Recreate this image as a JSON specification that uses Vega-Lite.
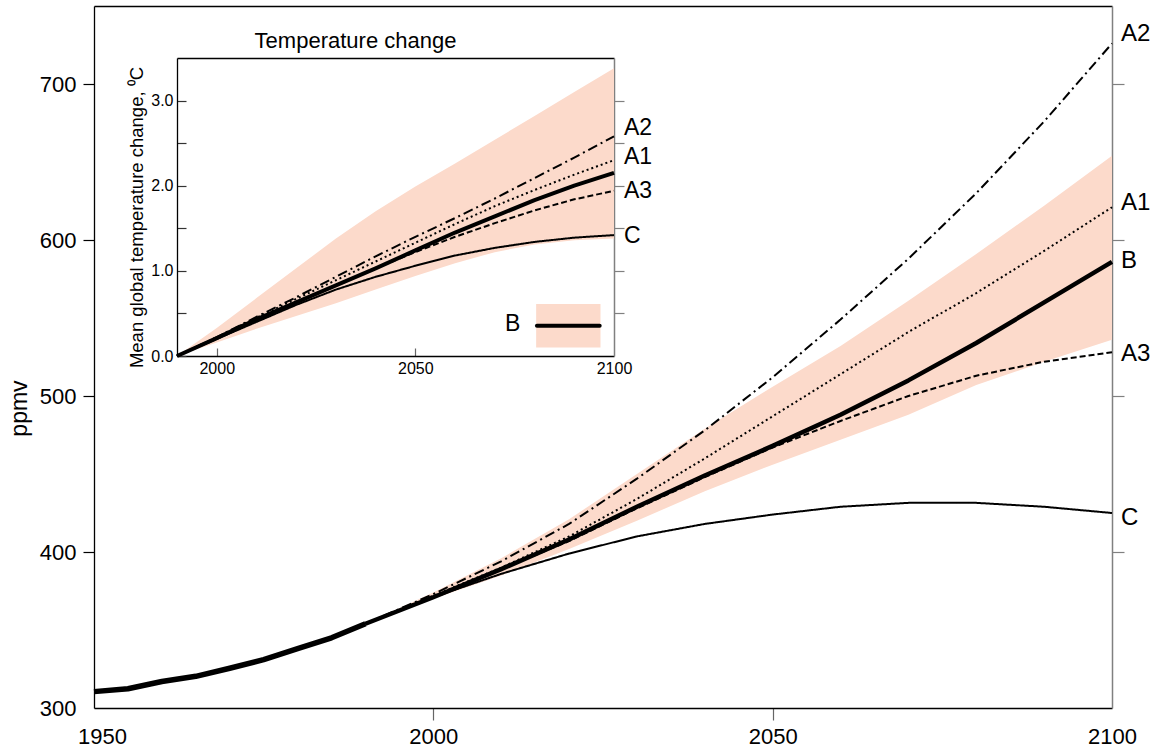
{
  "$schema": "https://vega.github.io/schema/vega-lite/v6.json",
  "width": 1018,
  "height": 702,
  "autosize": {"type": "none"},
  "padding": {"left": 94, "top": 6, "right": 49, "bottom": 43},
  "background": "white",
  "config": {
    "view": {"stroke": null},
    "font": "Liberation Sans",
    "axis": {"grid": false, "labelFont": "Liberation Sans", "titleFont": "Liberation Sans", "labelColor": "black", "titleColor": "black", "titleFontWeight": "normal", "domainColor": "black", "tickColor": "black", "labelFlush": false, "labelOverlap": false}
  },
  "datasets": {
    "mainBand": [
      {"year": 1990, "lo": 354, "hi": 354},
      {"year": 2000, "lo": 370, "hi": 374},
      {"year": 2010, "lo": 385, "hi": 396},
      {"year": 2020, "lo": 402, "hi": 421},
      {"year": 2030, "lo": 420, "hi": 450},
      {"year": 2040, "lo": 439, "hi": 479},
      {"year": 2050, "lo": 456, "hi": 506},
      {"year": 2060, "lo": 472, "hi": 532},
      {"year": 2070, "lo": 488, "hi": 561},
      {"year": 2080, "lo": 507, "hi": 591},
      {"year": 2090, "lo": 522, "hi": 622},
      {"year": 2100, "lo": 536, "hi": 654}
    ],
    "mainLines": [
      {"scen": "Hist", "year": 1950, "ppmv": 310.5},
      {"scen": "Hist", "year": 1955, "ppmv": 312.3},
      {"scen": "Hist", "year": 1960, "ppmv": 317},
      {"scen": "Hist", "year": 1965, "ppmv": 320.3},
      {"scen": "Hist", "year": 1970, "ppmv": 325.5},
      {"scen": "Hist", "year": 1975, "ppmv": 331},
      {"scen": "Hist", "year": 1980, "ppmv": 338},
      {"scen": "Hist", "year": 1985, "ppmv": 345},
      {"scen": "Hist", "year": 1990, "ppmv": 354},
      {"scen": "B", "year": 1990, "ppmv": 354},
      {"scen": "B", "year": 2000, "ppmv": 371},
      {"scen": "B", "year": 2010, "ppmv": 389},
      {"scen": "B", "year": 2020, "ppmv": 408},
      {"scen": "B", "year": 2030, "ppmv": 429},
      {"scen": "B", "year": 2040, "ppmv": 449},
      {"scen": "B", "year": 2050, "ppmv": 468},
      {"scen": "B", "year": 2060, "ppmv": 488},
      {"scen": "B", "year": 2070, "ppmv": 510},
      {"scen": "B", "year": 2080, "ppmv": 534},
      {"scen": "B", "year": 2090, "ppmv": 560},
      {"scen": "B", "year": 2100, "ppmv": 586},
      {"scen": "A1", "year": 1990, "ppmv": 354},
      {"scen": "A1", "year": 2000, "ppmv": 372},
      {"scen": "A1", "year": 2010, "ppmv": 390},
      {"scen": "A1", "year": 2020, "ppmv": 410},
      {"scen": "A1", "year": 2030, "ppmv": 434},
      {"scen": "A1", "year": 2040, "ppmv": 460},
      {"scen": "A1", "year": 2050, "ppmv": 487},
      {"scen": "A1", "year": 2060, "ppmv": 514},
      {"scen": "A1", "year": 2070, "ppmv": 541},
      {"scen": "A1", "year": 2080, "ppmv": 566},
      {"scen": "A1", "year": 2090, "ppmv": 593},
      {"scen": "A1", "year": 2100, "ppmv": 621},
      {"scen": "A2", "year": 1990, "ppmv": 354},
      {"scen": "A2", "year": 2000, "ppmv": 373},
      {"scen": "A2", "year": 2010, "ppmv": 394},
      {"scen": "A2", "year": 2020, "ppmv": 418},
      {"scen": "A2", "year": 2030, "ppmv": 447},
      {"scen": "A2", "year": 2040, "ppmv": 478},
      {"scen": "A2", "year": 2050, "ppmv": 512},
      {"scen": "A2", "year": 2060, "ppmv": 549},
      {"scen": "A2", "year": 2070, "ppmv": 588},
      {"scen": "A2", "year": 2080, "ppmv": 630},
      {"scen": "A2", "year": 2090, "ppmv": 676},
      {"scen": "A2", "year": 2100, "ppmv": 726},
      {"scen": "A3", "year": 1990, "ppmv": 354},
      {"scen": "A3", "year": 2000, "ppmv": 371},
      {"scen": "A3", "year": 2010, "ppmv": 389},
      {"scen": "A3", "year": 2020, "ppmv": 407},
      {"scen": "A3", "year": 2030, "ppmv": 428},
      {"scen": "A3", "year": 2040, "ppmv": 448},
      {"scen": "A3", "year": 2050, "ppmv": 467},
      {"scen": "A3", "year": 2060, "ppmv": 484},
      {"scen": "A3", "year": 2070, "ppmv": 500},
      {"scen": "A3", "year": 2080, "ppmv": 513},
      {"scen": "A3", "year": 2090, "ppmv": 522},
      {"scen": "A3", "year": 2100, "ppmv": 528},
      {"scen": "C", "year": 1990, "ppmv": 354},
      {"scen": "C", "year": 2000, "ppmv": 371},
      {"scen": "C", "year": 2010, "ppmv": 386},
      {"scen": "C", "year": 2020, "ppmv": 399},
      {"scen": "C", "year": 2030, "ppmv": 410},
      {"scen": "C", "year": 2040, "ppmv": 418},
      {"scen": "C", "year": 2050, "ppmv": 424},
      {"scen": "C", "year": 2060, "ppmv": 429},
      {"scen": "C", "year": 2070, "ppmv": 431.5},
      {"scen": "C", "year": 2080, "ppmv": 431.5},
      {"scen": "C", "year": 2090, "ppmv": 429},
      {"scen": "C", "year": 2100, "ppmv": 425}
    ],
    "mainLabels": [
      {"label": "A2", "ppmv": 732},
      {"label": "A1", "ppmv": 624},
      {"label": "B", "ppmv": 586.5},
      {"label": "A3", "ppmv": 527},
      {"label": "C", "ppmv": 422}
    ],
    "insetBand": [
      {"year": 1990, "lo": 0, "hi": 0},
      {"year": 2000, "lo": 0.16, "hi": 0.33},
      {"year": 2010, "lo": 0.32, "hi": 0.68},
      {"year": 2020, "lo": 0.47, "hi": 1.03},
      {"year": 2030, "lo": 0.62, "hi": 1.38},
      {"year": 2040, "lo": 0.78, "hi": 1.70},
      {"year": 2050, "lo": 0.94, "hi": 1.99},
      {"year": 2060, "lo": 1.09, "hi": 2.26},
      {"year": 2070, "lo": 1.22, "hi": 2.54},
      {"year": 2080, "lo": 1.31, "hi": 2.82},
      {"year": 2090, "lo": 1.36, "hi": 3.10},
      {"year": 2100, "lo": 1.38, "hi": 3.38}
    ],
    "insetLines": [
      {"scen": "C", "year": 1990, "T": 0}, {"scen": "C", "year": 2000, "T": 0.20}, {"scen": "C", "year": 2010, "T": 0.40}, {"scen": "C", "year": 2020, "T": 0.60}, {"scen": "C", "year": 2030, "T": 0.78}, {"scen": "C", "year": 2040, "T": 0.93}, {"scen": "C", "year": 2050, "T": 1.06}, {"scen": "C", "year": 2060, "T": 1.18}, {"scen": "C", "year": 2070, "T": 1.27}, {"scen": "C", "year": 2080, "T": 1.34}, {"scen": "C", "year": 2090, "T": 1.39}, {"scen": "C", "year": 2100, "T": 1.42},
      {"scen": "B", "year": 1990, "T": 0}, {"scen": "B", "year": 2000, "T": 0.21}, {"scen": "B", "year": 2010, "T": 0.43}, {"scen": "B", "year": 2020, "T": 0.63}, {"scen": "B", "year": 2030, "T": 0.83}, {"scen": "B", "year": 2040, "T": 1.03}, {"scen": "B", "year": 2050, "T": 1.24}, {"scen": "B", "year": 2060, "T": 1.45}, {"scen": "B", "year": 2070, "T": 1.64}, {"scen": "B", "year": 2080, "T": 1.83}, {"scen": "B", "year": 2090, "T": 2.00}, {"scen": "B", "year": 2100, "T": 2.15},
      {"scen": "A3", "year": 1990, "T": 0}, {"scen": "A3", "year": 2000, "T": 0.21}, {"scen": "A3", "year": 2010, "T": 0.43}, {"scen": "A3", "year": 2020, "T": 0.63}, {"scen": "A3", "year": 2030, "T": 0.83}, {"scen": "A3", "year": 2040, "T": 1.03}, {"scen": "A3", "year": 2050, "T": 1.22}, {"scen": "A3", "year": 2060, "T": 1.40}, {"scen": "A3", "year": 2070, "T": 1.56}, {"scen": "A3", "year": 2080, "T": 1.71}, {"scen": "A3", "year": 2090, "T": 1.84}, {"scen": "A3", "year": 2100, "T": 1.94},
      {"scen": "A1", "year": 1990, "T": 0}, {"scen": "A1", "year": 2000, "T": 0.22}, {"scen": "A1", "year": 2010, "T": 0.45}, {"scen": "A1", "year": 2020, "T": 0.67}, {"scen": "A1", "year": 2030, "T": 0.89}, {"scen": "A1", "year": 2040, "T": 1.11}, {"scen": "A1", "year": 2050, "T": 1.33}, {"scen": "A1", "year": 2060, "T": 1.55}, {"scen": "A1", "year": 2070, "T": 1.76}, {"scen": "A1", "year": 2080, "T": 1.95}, {"scen": "A1", "year": 2090, "T": 2.13}, {"scen": "A1", "year": 2100, "T": 2.30},
      {"scen": "A2", "year": 1990, "T": 0}, {"scen": "A2", "year": 2000, "T": 0.22}, {"scen": "A2", "year": 2010, "T": 0.46}, {"scen": "A2", "year": 2020, "T": 0.69}, {"scen": "A2", "year": 2030, "T": 0.93}, {"scen": "A2", "year": 2040, "T": 1.17}, {"scen": "A2", "year": 2050, "T": 1.40}, {"scen": "A2", "year": 2060, "T": 1.62}, {"scen": "A2", "year": 2070, "T": 1.85}, {"scen": "A2", "year": 2080, "T": 2.09}, {"scen": "A2", "year": 2090, "T": 2.33}, {"scen": "A2", "year": 2100, "T": 2.58}
    ],
    "insetLabels": [
      {"label": "A2", "T": 2.675},
      {"label": "A1", "T": 2.34},
      {"label": "A3", "T": 1.935},
      {"label": "C", "T": 1.41}
    ]
  },
  "layer": [
    {
      "layer": [
        {
          "data": {"name": "mainBand"},
          "mark": {"type": "area", "color": "#fcdacb", "opacity": 1},
          "encoding": {
            "x": {"field": "year", "type": "quantitative", "scale": {"domain": [1950, 2100], "nice": false, "zero": false},
              "axis": {"orient": "bottom", "values": [1950, 2000, 2050, 2100], "format": "d", "title": null, "tickSize": 12, "tickWidth": 1.2,
                "tickColor": {"condition": {"test": "datum.value == 2000 || datum.value == 2050", "value": "#666666"}, "value": "transparent"},
                "labelFontSize": 22, "labelPadding": 6,
                "labelOffset": {"condition": {"test": "datum.value == 1950", "value": 8}, "value": 0},
                "domainWidth": 1.3}},
            "y": {"field": "lo", "type": "quantitative", "scale": {"domain": [300, 750], "nice": false, "zero": false},
              "axis": {"orient": "left", "values": [300, 400, 500, 600, 700], "format": "d", "title": "ppmv", "titleFontSize": 23, "titlePadding": 8, "titleY": 402,
                "tickSize": 11, "tickWidth": 1.2,
                "tickColor": {"condition": {"test": "datum.value == 300", "value": "transparent"}, "value": "black"},
                "labelFontSize": 22, "labelPadding": 7, "domainWidth": 1.3}},
            "y2": {"field": "hi"}
          }
        },
        {
          "data": {"name": "mainLines"},
          "transform": [{"filter": "datum.scen != 'B' && datum.scen != 'Hist'"}],
          "mark": {"type": "line", "color": "black", "strokeJoin": "round", "strokeWidth": 2},
          "encoding": {
            "x": {"field": "year", "type": "quantitative", "axis": null},
            "y": {"field": "ppmv", "type": "quantitative", "axis": null},
            "strokeDash": {"field": "scen", "type": "nominal", "legend": null,
              "scale": {"domain": ["A1", "A2", "A3", "C"], "range": [[2, 3], [10, 4, 2, 4], [6, 3], [1, 0]]}}
          }
        },
        {
          "data": {"name": "mainLines"},
          "transform": [{"filter": "datum.scen == 'B'"}],
          "mark": {"type": "line", "color": "black", "strokeJoin": "round", "strokeWidth": 4.5},
          "encoding": {
            "x": {"field": "year", "type": "quantitative", "axis": null},
            "y": {"field": "ppmv", "type": "quantitative", "axis": null}
          }
        },
        {
          "data": {"name": "mainLines"},
          "transform": [{"filter": "datum.scen == 'Hist'"}],
          "mark": {"type": "line", "color": "black", "strokeJoin": "round", "strokeWidth": 5.5},
          "encoding": {
            "x": {"field": "year", "type": "quantitative", "axis": null},
            "y": {"field": "ppmv", "type": "quantitative", "axis": null}
          }
        },
        {
          "data": {"name": "mainLabels"},
          "mark": {"type": "text", "align": "left", "baseline": "middle", "dx": 9, "fontSize": 24, "color": "black"},
          "encoding": {
            "x": {"datum": 2100, "type": "quantitative",
              "axis": {"orient": "top", "labels": false, "ticks": false, "title": null, "domainColor": "black", "domainWidth": 1.3}},
            "y": {"field": "ppmv", "type": "quantitative",
              "axis": {"orient": "right", "values": [400, 500, 600, 700], "labels": false, "tickSize": 12, "tickWidth": 1.2, "tickColor": "#808080", "domainColor": "#808080", "domainWidth": 1.5, "title": null}},
            "text": {"field": "label"}
          }
        }
      ],
      "resolve": {"axis": {"x": "independent", "y": "independent"}}
    },
    {
      "layer": [
        {
          "data": {"name": "insetBand"},
          "mark": {"type": "area", "color": "#fcdacb", "opacity": 1},
          "encoding": {
            "x": {"field": "year", "type": "quantitative", "scale": {"domain": [1990, 2100], "range": [83, 520], "nice": false, "zero": false},
              "axis": {"orient": "bottom", "offset": -352, "values": [2000, 2050, 2100], "format": "d", "title": null, "tickSize": -8, "tickWidth": 1.2,
                "tickColor": {"condition": {"test": "datum.value == 2100", "value": "transparent"}, "value": "#666666"},
                "labelFontSize": 16, "labelPadding": 12, "domainWidth": 1.3}},
            "y": {"field": "lo", "type": "quantitative", "scale": {"domain": [0, 3.5], "range": [350, 52], "nice": false, "zero": false},
              "axis": {"orient": "left", "offset": -83, "values": [0, 0.5, 1, 1.5, 2, 2.5, 3],
                "labelExpr": "datum.value % 1 == 0 ? format(datum.value, '.1f') : ''",
                "tickSize": -9, "tickWidth": 1.2, "tickColor": "#333333",
                "labelFontSize": 16, "labelPadding": 13, "domainWidth": 1.3,
                "title": "Mean global temperature change, ⁰C", "titleFontSize": 18.5, "titlePadding": 4, "titleY": 211}},
            "y2": {"field": "hi"}
          }
        },
        {
          "data": {"name": "insetLines"},
          "transform": [{"filter": "datum.scen != 'B'"}],
          "mark": {"type": "line", "color": "black", "strokeJoin": "round", "strokeWidth": 2},
          "encoding": {
            "x": {"field": "year", "type": "quantitative", "axis": null},
            "y": {"field": "T", "type": "quantitative", "axis": null},
            "strokeDash": {"field": "scen", "type": "nominal", "legend": null,
              "scale": {"domain": ["A1", "A2", "A3", "C"], "range": [[2, 3], [9, 4, 2, 4], [6, 3], [1, 0]]}}
          }
        },
        {
          "data": {"name": "insetLines"},
          "transform": [{"filter": "datum.scen == 'B'"}],
          "mark": {"type": "line", "color": "black", "strokeJoin": "round", "strokeWidth": 4},
          "encoding": {
            "x": {"field": "year", "type": "quantitative", "axis": null},
            "y": {"field": "T", "type": "quantitative", "axis": null}
          }
        },
        {
          "data": {"values": [{}]},
          "mark": {"type": "rect", "color": "#fcdacb"},
          "encoding": {
            "x": {"datum": 2080.4, "type": "quantitative", "axis": null},
            "x2": {"datum": 2096.6},
            "y": {"datum": 0.1, "type": "quantitative", "axis": null},
            "y2": {"datum": 0.61}
          }
        },
        {
          "data": {"values": [{}]},
          "mark": {"type": "rule", "color": "black", "strokeWidth": 4, "strokeCap": "round"},
          "encoding": {
            "x": {"datum": 2080.6, "type": "quantitative", "axis": null},
            "x2": {"datum": 2096.4},
            "y": {"datum": 0.355, "type": "quantitative", "axis": null}
          }
        },
        {
          "data": {"values": [{"label": "B"}]},
          "mark": {"type": "text", "align": "right", "baseline": "middle", "fontSize": 23, "color": "black"},
          "encoding": {
            "x": {"datum": 2076.4, "type": "quantitative", "axis": null},
            "y": {"datum": 0.37, "type": "quantitative", "axis": null},
            "text": {"field": "label"}
          }
        },
        {
          "data": {"name": "insetLabels"},
          "mark": {"type": "text", "align": "left", "baseline": "middle", "dx": 10, "fontSize": 23, "color": "black"},
          "encoding": {
            "x": {"datum": 2100, "type": "quantitative",
              "axis": {"orient": "top", "offset": -52, "labels": false, "ticks": false, "domainColor": "black", "domainWidth": 1.3,
                "title": "Temperature change", "titleFontSize": 22, "titlePadding": 6, "titleX": 261, "titleAlign": "center"}},
            "y": {"field": "T", "type": "quantitative",
              "axis": {"orient": "right", "offset": -498, "values": [0.5, 1, 1.5, 2, 2.5, 3], "labels": false, "tickSize": 10, "tickWidth": 1.2, "tickColor": "#808080", "domainColor": "#808080", "domainWidth": 1.5, "title": null}},
            "text": {"field": "label"}
          }
        }
      ],
      "resolve": {"axis": {"x": "independent", "y": "independent"}}
    }
  ],
  "resolve": {"scale": {"x": "independent", "y": "independent"}}
}
